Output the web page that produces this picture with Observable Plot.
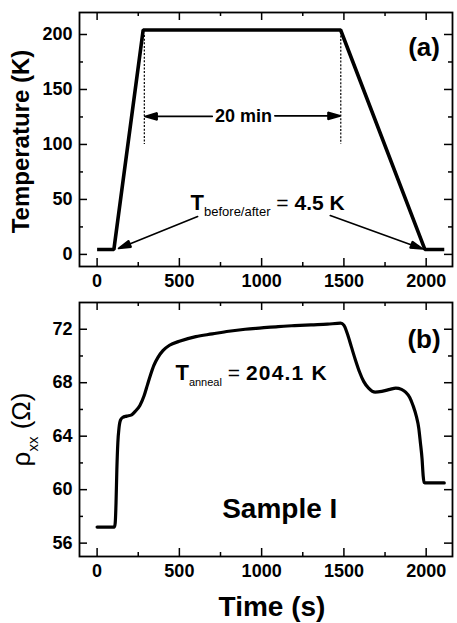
<!DOCTYPE html>
<html>
<head>
<meta charset="utf-8">
<script src="https://cdn.jsdelivr.net/npm/d3@7"></script>
<script src="https://cdn.jsdelivr.net/npm/@observablehq/plot@0.6"></script>
<style>
  html, body { margin: 0; padding: 0; background: #fff; }
  #chart svg { display: block; }
  text { white-space: pre; }
</style>
</head>
<body>
<div id="chart"></div>
<script>
// ---------- data ----------
const tempTime = [0, 102, 280, 1480, 1992, 2110];
const tempK    = [4.5, 4.5, 204.1, 204.1, 4.5, 4.5];

const rhoTime = [0, 50, 105, 110, 115, 120, 126, 133, 142, 155, 180, 210, 235, 260, 285, 305, 325, 345, 370, 400, 440, 500, 600, 700, 800, 900, 1000, 1100, 1200, 1300, 1400, 1480, 1500, 1520, 1545, 1570, 1595, 1620, 1650, 1690, 1730, 1780, 1815, 1850, 1875, 1900, 1920, 1940, 1955, 1965, 1975, 1982, 1987, 2000, 2110];
const rhoVal  = [57.2, 57.2, 57.2, 57.5, 59.0, 61.5, 63.5, 64.6, 65.2, 65.4, 65.5, 65.6, 65.9, 66.3, 67.0, 67.8, 68.6, 69.3, 69.9, 70.4, 70.8, 71.1, 71.45, 71.65, 71.85, 72.0, 72.1, 72.2, 72.27, 72.33, 72.38, 72.45, 72.3, 71.7, 70.7, 69.7, 68.8, 68.1, 67.6, 67.3, 67.35, 67.5, 67.6, 67.5, 67.3, 66.9, 66.3, 65.5, 64.6, 63.5, 62.3, 61.0, 60.55, 60.5, 60.5];

const xTickLabels = [0, 500, 1000, 1500, 2000];
const xMinorTicks = [250, 750, 1250, 1750];
const tTickLabels = [0, 50, 100, 150, 200];
const tMinorTicks = [25, 75, 125, 175];
const rTickLabels = [56, 60, 64, 68, 72];
const rMinorTicks = [58, 62, 66, 70];

const xDomain = [-107, 2160];
const tDomain = [-11, 220];
const rDomain = [55, 74];

// annotations (data coordinates)
const dashTimes = [287, 1481];
const dashFrom  = [199, 202];
const dashTo    = [100, 100];
const spanArrowFrom = [700, 1080];
const spanArrowTo   = [290, 1478];
const spanArrowT    = [125.5, 126];
const leadFromT = [611, 1417];
const leadFromY = [34.5, 35.4];
const leadToT   = [130, 1979];
const leadToY   = [5.4, 5.0];

const tempLabels = [{t: 890, y: 125.5, text: "20 min"}];
const holdLabel = [{t: 568, y: 40, text: "+22{T}_13{before/after} !{= }4.5 K"}];
const annealLabel = [{t: 476, y: 68.22, text: "+22{T}_11{anneal} !{= }~{204.1 K}"}];
const panelA = [{t: 1987, y: 188, text: "(a)"}];
const panelB = [{t: 1987, y: 71.23, text: "(b)"}];
const sampleLabel = [{t: 760, y: 57.9, text: "Sample I"}];

const xTitle = "Time (s)";
const tTitle = "Temperature (K)";
const rTitle = "ρ_15{xx} (Ω)";

// ---------- build ----------
const FONT = "'Liberation Sans', Arial, Helvetica, sans-serif";
const W = 457;
const mL = 79, mR = 5;
const innerW = W - mL - mR;
const innerH = 254;

const tempData = tempTime.map((t, i) => ({t, y: tempK[i]}));
const rhoData  = rhoTime.map((t, i) => ({t, y: rhoVal[i]}));
const dashData = dashTimes.map((t, i) => ({t, y1: dashFrom[i], y2: dashTo[i]}));
const spanArrows = spanArrowFrom.map((t, i) => ({x1: t, x2: spanArrowTo[i], y: spanArrowT[i]}));
const leadArrows = leadFromT.map((t, i) => ({x1: t, y1: leadFromY[i], x2: leadToT[i], y2: leadToY[i]}));

function frameTicks(yMaj, yMin) {
  const ts = {stroke: "black", strokeWidth: 1.5};
  return [
    Plot.tickX(xTickLabels, {x: d => d, insetBottom: innerH - 8, ...ts}),
    Plot.tickX(xTickLabels, {x: d => d, insetTop: innerH - 8, ...ts}),
    Plot.tickX(xMinorTicks, {x: d => d, insetBottom: innerH - 4, ...ts}),
    Plot.tickX(xMinorTicks, {x: d => d, insetTop: innerH - 4, ...ts}),
    Plot.tickY(yMaj, {y: d => d, insetRight: innerW - 8, ...ts}),
    Plot.tickY(yMaj, {y: d => d, insetLeft: innerW - 8, ...ts}),
    Plot.tickY(yMin, {y: d => d, insetRight: innerW - 4, ...ts}),
    Plot.tickY(yMin, {y: d => d, insetLeft: innerW - 4, ...ts})
  ];
}

function axes(yTicks) {
  return [
    Plot.axisX({ticks: xTickLabels, tickSize: 0, tickPadding: 8, fontSize: 18, fontWeight: "bold", label: null, tickFormat: d => String(d)}),
    Plot.axisY({ticks: yTicks, tickSize: 0, tickPadding: 7, fontSize: 18, fontWeight: "bold", label: null, tickFormat: d => String(d)})
  ];
}

const arrowStyle = {stroke: "black", strokeWidth: 1.6, headLength: 12, headAngle: 32};

const topPlot = Plot.plot({
  width: W, height: 300,
  marginTop: 12, marginBottom: 34, marginLeft: mL, marginRight: mR,
  style: {fontFamily: FONT, color: "black", background: "white", overflow: "visible"},
  x: {domain: xDomain, axis: null},
  y: {domain: tDomain, axis: null},
  marks: [
    ...axes(tTickLabels),
    ...frameTicks(tTickLabels, tMinorTicks),
    Plot.ruleX(dashData, {x: "t", y1: "y1", y2: "y2", stroke: "black", strokeWidth: 1.2, strokeDasharray: "2,1.6"}),
    Plot.line(tempData, {x: "t", y: "y", stroke: "black", strokeWidth: 3.6, strokeLinejoin: "miter", strokeLinecap: "butt"}),
    Plot.arrow(spanArrows, {x1: "x1", x2: "x2", y1: "y", y2: "y", ...arrowStyle}),
    Plot.arrow(leadArrows, {x1: "x1", y1: "y1", x2: "x2", y2: "y2", ...arrowStyle}),
    Plot.text(tempLabels, {x: "t", y: "y", text: "text", fontSize: 18, fontWeight: "bold", textAnchor: "middle", lineAnchor: "middle"}),
    Plot.text(holdLabel, {x: "t", y: "y", text: "text", fontSize: 21, fontWeight: "bold", textAnchor: "start", lineAnchor: "bottom"}),
    Plot.text(panelA, {x: "t", y: "y", text: "text", fontSize: 26, fontWeight: "bold", textAnchor: "middle", lineAnchor: "middle"}),
    Plot.text([tTitle], {text: d => d, frameAnchor: "left", rotate: -90, dx: -51, dy: 2, textAnchor: "middle", lineAnchor: "bottom", fontSize: 24, fontWeight: "bold"}),
    Plot.frame({stroke: "black", strokeWidth: 1.8})
  ]
});

const bottomPlot = Plot.plot({
  width: W, height: 323,
  marginTop: 2, marginBottom: 67, marginLeft: mL, marginRight: mR,
  style: {fontFamily: FONT, color: "black", background: "white", overflow: "visible"},
  x: {domain: xDomain, axis: null},
  y: {domain: rDomain, axis: null},
  marks: [
    ...axes(rTickLabels),
    ...frameTicks(rTickLabels, rMinorTicks),
    Plot.line(rhoData, {x: "t", y: "y", stroke: "black", strokeWidth: 3.2, curve: "monotone-x"}),
    Plot.text(annealLabel, {x: "t", y: "y", text: "text", fontSize: 21, fontWeight: "bold", textAnchor: "start", lineAnchor: "bottom"}),
    Plot.text(panelB, {x: "t", y: "y", text: "text", fontSize: 26, fontWeight: "bold", textAnchor: "middle", lineAnchor: "middle"}),
    Plot.text(sampleLabel, {x: "t", y: "y", text: "text", fontSize: 28, fontWeight: "bold", textAnchor: "start", lineAnchor: "bottom"}),
    Plot.text([xTitle], {text: d => d, frameAnchor: "bottom", dx: 6, dy: 59, textAnchor: "middle", lineAnchor: "bottom", fontSize: 28, fontWeight: "bold"}),
    Plot.text([rTitle], {text: d => d, frameAnchor: "left", rotate: -90, dx: -50, dy: 0, textAnchor: "middle", lineAnchor: "bottom", fontSize: 26, fontWeight: "normal"}),
    Plot.frame({stroke: "black", strokeWidth: 1.8})
  ]
});

const chart = document.getElementById("chart");
chart.appendChild(topPlot);
chart.appendChild(bottomPlot);

// rich text markup: _N{sub}, !{normal weight}, +N{sized}, ~{letter-spaced}
function richText(svg) {
  d3.select(svg).selectAll("text").each(function() {
    const s = this.textContent;
    if (!/[_!+~]\d*\{/.test(s)) return;
    const fs = parseFloat(getComputedStyle(this).fontSize) || 16;
    const el = d3.select(this);
    el.text(null);
    const re = /([_!+~])(\d*)\{([^}]*)\}/g;
    let last = 0, m, shift = 0;
    const parts = [];
    while ((m = re.exec(s))) {
      if (m.index > last) parts.push({t: s.slice(last, m.index), k: ""});
      parts.push({t: m[3], k: m[1], size: m[2] ? +m[2] : null});
      last = re.lastIndex;
    }
    if (last < s.length) parts.push({t: s.slice(last), k: ""});
    for (const p of parts) {
      const ts = el.append("tspan").text(p.t);
      let dy = 0;
      if (p.k === "_") {
        ts.attr("font-size", p.size || Math.round(fs * 0.6)).attr("font-weight", "normal");
        dy = Math.round(fs * 0.3);
      } else if (p.k === "!") {
        ts.attr("font-weight", "normal");
      } else if (p.k === "+") {
        ts.attr("font-size", p.size || Math.round(fs * 1.1));
      } else if (p.k === "~") {
        ts.attr("letter-spacing", "1.2px");
      }
      if (dy - shift !== 0) ts.attr("dy", dy - shift);
      shift = dy;
    }
  });
}
richText(topPlot);
richText(bottomPlot);

// filled arrowheads
d3.select(topPlot).selectAll('g[aria-label="arrow"] path').each(function() {
  this.setAttribute("d", this.getAttribute("d") + "Z");
  this.setAttribute("fill", "black");
  this.setAttribute("stroke-linejoin", "miter");
});
</script>
</body>
</html>
